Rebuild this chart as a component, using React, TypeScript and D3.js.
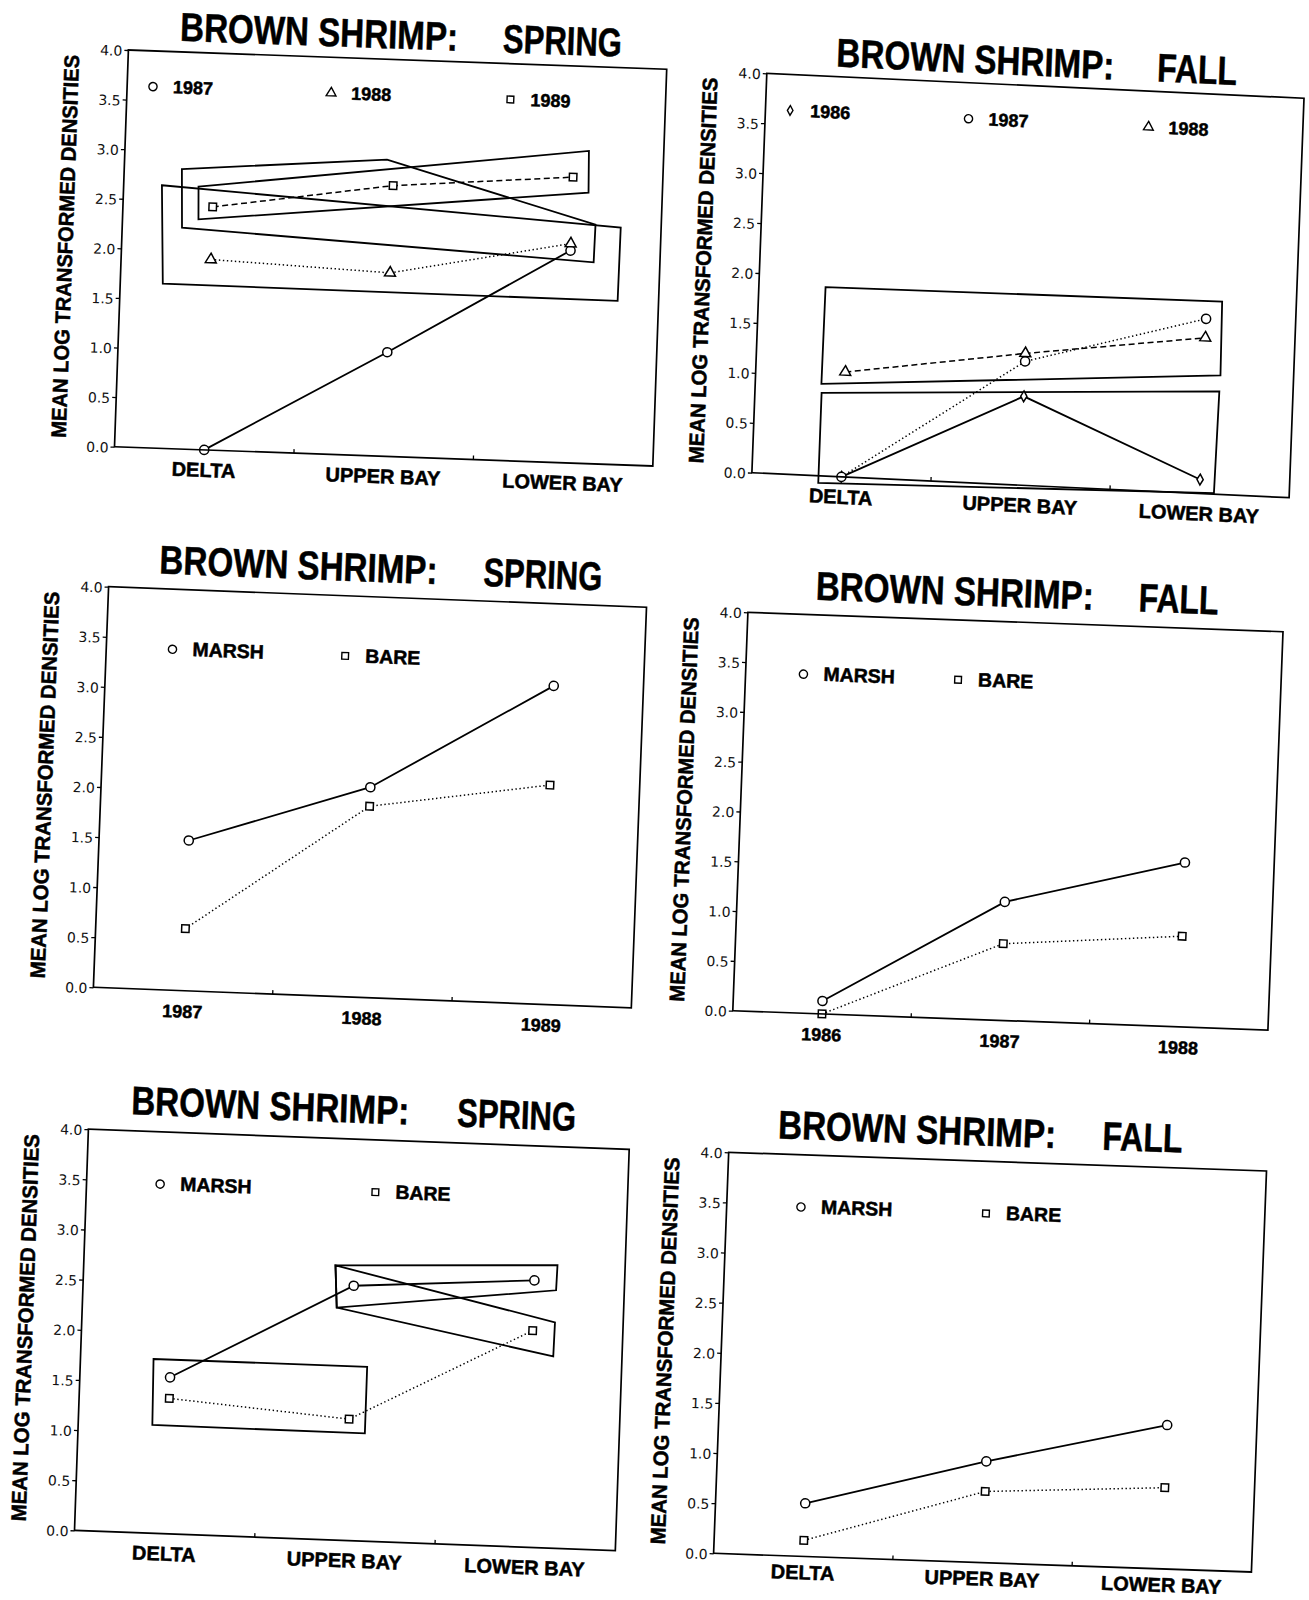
import React, { useRef, useEffect } from "react";
import * as d3 from "d3";

type Pt = [number, number];
type Mark = "circle" | "square" | "triangle" | "diamond";
type Dash = "solid" | "dot" | "dash";

interface Series {
  name: string;
  values: number[];
  mark: Mark;
  dash: Dash;
}

interface Panel {
  season: string;
  categories: string[];
  series: Series[];
  boxes: Pt[][];
  legendX: number[]; // fraction of the x axis
  legendY: number; // in data units
  tl: Pt; // page position of the frame corners (the scan is skewed)
  tr: Pt;
  bl: Pt;
  titleX: number;
  titleDy: number;
  seasonX: number;
  catDy: number;
}

const regions = ["DELTA", "UPPER BAY", "LOWER BAY"];
const springYears = ["1987", "1988", "1989"];
const fallYears = ["1986", "1987", "1988"];
const yTicks = [0, 0.5, 1, 1.5, 2, 2.5, 3, 3.5, 4];

const titleMain = "BROWN SHRIMP:";
const yTitle = "MEAN LOG TRANSFORMED DENSITIES";

// spring, by region, one line per year
const springRegion1987 = [0.0, 1.05, 2.14];
const springRegion1988 = [1.92, 1.85, 2.21];
const springRegion1989 = [2.45, 2.73, 2.88];

// fall, by region, one line per year
const fallRegion1986 = [0.0, 0.89, 0.14];
const fallRegion1987 = [0.0, 1.24, 1.75];
const fallRegion1988 = [1.05, 1.32, 1.56];

// spring, by year, marsh vs bare
const springYearMarsh = [1.5, 2.1, 3.18];
const springYearBare = [0.62, 1.91, 2.19];

// fall, by year, marsh vs bare
const fallYearMarsh = [0.13, 1.19, 1.65];
const fallYearBare = [0.0, 0.77, 0.91];

// spring, by region, marsh vs bare
const springRegionMarsh = [1.56, 2.54, 2.66];
const springRegionBare = [1.35, 1.21, 2.16];

// fall, by region, marsh vs bare
const fallRegionMarsh = [0.53, 1.01, 1.435];
const fallRegionBare = [0.16, 0.71, 0.81];

// hand drawn grouping boxes, [fraction of x axis, value]
const springRegionBoxes: Pt[][] = [
  [[0.071, 2.65], [0.925, 2.39], [0.924, 1.65], [0.079, 1.66]],
  [[0.107, 2.82], [0.487, 2.99], [0.878, 2.41], [0.877, 2.03], [0.111, 2.23]],
  [[0.139, 2.65], [0.861, 3.15], [0.863, 2.73], [0.141, 2.32]],
];
const fallRegionBoxes: Pt[][] = [
  [[0.124, 1.89], [0.862, 1.93], [0.864, 1.19], [0.123, 0.92]],
  [[0.124, 0.83], [0.863, 1.03], [0.86, 0.01], [0.124, -0.07]],
];
const springHabitatBoxes: Pt[][] = [
  [[0.135, 1.736], [0.53, 1.738], [0.53, 1.074], [0.137, 1.079]],
  [[0.465, 2.736], [0.875, 2.82], [0.874, 2.57], [0.47, 2.316]],
  [[0.465, 2.736], [0.874, 2.25], [0.873, 1.91], [0.47, 2.316]],
];

const panels: Panel[] = [
  {
    season: "SPRING",
    categories: regions,
    series: [
      { name: "1987", values: springRegion1987, mark: "circle", dash: "solid" },
      { name: "1988", values: springRegion1988, mark: "triangle", dash: "dot" },
      { name: "1989", values: springRegion1989, mark: "square", dash: "dash" },
    ],
    boxes: springRegionBoxes,
    legendX: [0.048, 0.379, 0.712],
    legendY: 3.64,
    tl: [128.4, 50], tr: [666.7, 69.3], bl: [114.5, 446.7],
    titleX: 51, titleDy: 11, seasonX: 374, catDy: 27,
  },
  {
    season: "FALL",
    categories: regions,
    series: [
      { name: "1986", values: fallRegion1986, mark: "diamond", dash: "solid" },
      { name: "1987", values: fallRegion1987, mark: "circle", dash: "dot" },
      { name: "1988", values: fallRegion1988, mark: "triangle", dash: "dash" },
    ],
    boxes: fallRegionBoxes,
    legendX: [0.046, 0.378, 0.713],
    legendY: 3.64,
    tl: [766.8, 73.3], tr: [1304, 98.3], bl: [751.9, 472.7],
    titleX: 69, titleDy: 10, seasonX: 390, catDy: 27,
  },
  {
    season: "SPRING",
    categories: springYears,
    series: [
      { name: "MARSH", values: springYearMarsh, mark: "circle", dash: "solid" },
      { name: "BARE", values: springYearBare, mark: "square", dash: "dot" },
    ],
    boxes: [],
    legendX: [0.123, 0.444],
    legendY: 3.4,
    tl: [108.6, 586.7], tr: [646.5, 607.2], bl: [93.4, 987.3],
    titleX: 50, titleDy: 15, seasonX: 374, catDy: 27,
  },
  {
    season: "FALL",
    categories: fallYears,
    series: [
      { name: "MARSH", values: fallYearMarsh, mark: "circle", dash: "solid" },
      { name: "BARE", values: fallYearBare, mark: "square", dash: "dot" },
    ],
    boxes: [],
    legendX: [0.108, 0.397],
    legendY: 3.4,
    tl: [747.9, 612.3], tr: [1283, 631.7], bl: [732.8, 1010.7],
    titleX: 67, titleDy: 15, seasonX: 390, catDy: 27,
  },
  {
    season: "SPRING",
    categories: regions,
    series: [
      { name: "MARSH", values: springRegionMarsh, mark: "circle", dash: "solid" },
      { name: "BARE", values: springRegionBare, mark: "square", dash: "dot" },
    ],
    boxes: springHabitatBoxes,
    legendX: [0.136, 0.534],
    legendY: 3.48,
    tl: [88.4, 1129.2], tr: [629.2, 1149.4], bl: [74.5, 1530.4],
    titleX: 42, titleDy: 16.5, seasonX: 368, catDy: 27,
  },
  {
    season: "FALL",
    categories: regions,
    series: [
      { name: "MARSH", values: fallRegionMarsh, mark: "circle", dash: "solid" },
      { name: "BARE", values: fallRegionBare, mark: "square", dash: "dot" },
    ],
    boxes: [],
    legendX: [0.138, 0.482],
    legendY: 3.48,
    tl: [728.7, 1152.3], tr: [1266.5, 1171], bl: [713.6, 1553.3],
    titleX: 48.5, titleDy: 15.5, seasonX: 373, catDy: 23,
  },
];

const FONT = "'Liberation Sans', Arial, Helvetica, sans-serif";

const symbolType = (m: Mark) =>
  m === "circle" ? d3.symbolCircle
    : m === "square" ? d3.symbolSquare
    : m === "triangle" ? d3.symbolTriangle
    : d3.symbolDiamond;

const symbolSize = (m: Mark) =>
  m === "circle" ? 66 : m === "square" ? 56 : m === "triangle" ? 52 : 34;

const dashArray = (d: Dash) => (d === "dot" ? "1.4 2.6" : d === "dash" ? "6 3.5" : null);

// heavy plotter lettering
const bold = (t: d3.Selection<SVGTextElement, any, any, any>, size: number) =>
  t.attr("font-family", FONT)
    .attr("font-weight", "bold")
    .attr("font-size", size)
    .attr("fill", "#000")
    .attr("stroke", "#000")
    .attr("stroke-width", 0.5);

const drawPanel = (svg: d3.Selection<SVGSVGElement | null, unknown, null, undefined>, p: Panel) => {
  const W = Math.hypot(p.tr[0] - p.tl[0], p.tr[1] - p.tl[1]);
  const H = Math.hypot(p.bl[0] - p.tl[0], p.bl[1] - p.tl[1]);
  const m = [
    (p.tr[0] - p.tl[0]) / W, (p.tr[1] - p.tl[1]) / W,
    (p.bl[0] - p.tl[0]) / H, (p.bl[1] - p.tl[1]) / H,
    p.tl[0], p.tl[1],
  ];

  const g = svg.append("g").attr("transform", `matrix(${m.join(" ")})`);

  const x = d3.scaleBand<string>().domain(p.categories).range([0, W]);
  const xf = d3.scaleLinear().domain([0, 1]).range([0, W]);
  const y = d3.scaleLinear().domain([0, 4]).range([H, 0]);
  const cx = (c: string) => (x(c) ?? 0) + x.bandwidth() / 2;

  // grouping boxes
  const boxLine = d3.line<Pt>().x((d) => xf(d[0])).y((d) => y(d[1])).curve(d3.curveLinearClosed);
  p.boxes.forEach((b) => {
    g.append("path")
      .attr("d", boxLine(b))
      .attr("fill", "none")
      .attr("stroke", "#000")
      .attr("stroke-width", 1.8);
  });

  // series lines
  const line = d3.line<Pt>().x((d) => d[0]).y((d) => d[1]);
  p.series.forEach((s) => {
    const pts: Pt[] = s.values.map((v, i) => [cx(p.categories[i]), y(v)]);
    g.append("path")
      .attr("d", line(pts))
      .attr("fill", "none")
      .attr("stroke", "#000")
      .attr("stroke-width", s.dash === "solid" ? 1.8 : 1.5)
      .attr("stroke-dasharray", dashArray(s.dash));
  });

  // markers
  p.series.forEach((s) => {
    g.selectAll(null)
      .data(s.values)
      .enter()
      .append("path")
      .attr("d", d3.symbol().type(symbolType(s.mark)).size(symbolSize(s.mark))())
      .attr("transform", (v, i) => `translate(${cx(p.categories[i])},${y(v)})`)
      .attr("fill", "#fff")
      .attr("stroke", "#000")
      .attr("stroke-width", 1.5);
  });

  // frame
  g.append("rect")
    .attr("width", W)
    .attr("height", H)
    .attr("fill", "none")
    .attr("stroke", "#000")
    .attr("stroke-width", 1.7);

  // y axis
  const yAxis = g.append("g").call(
    d3.axisLeft(y).tickValues(yTicks).tickFormat(d3.format(".1f")).tickSize(4).tickPadding(2)
  );
  yAxis.select(".domain").remove();
  yAxis.selectAll("line").attr("stroke", "#000").attr("stroke-width", 1.3);
  yAxis.selectAll("text")
    .attr("font-family", "'DejaVu Sans', sans-serif")
    .attr("font-size", 14)
    .attr("fill", "#111")
    .attr("dy", "0.4em");

  // x axis: ticks between the categories, labels under the band centres
  g.selectAll(null)
    .data(p.categories.slice(1))
    .enter()
    .append("line")
    .attr("x1", (c) => x(c) ?? 0)
    .attr("x2", (c) => x(c) ?? 0)
    .attr("y1", H)
    .attr("y2", H - 4)
    .attr("stroke", "#000")
    .attr("stroke-width", 1.3);

  const isYear = /^\d+$/.test(p.categories[0]);
  bold(
    g.selectAll(null)
      .data(p.categories)
      .enter()
      .append("text")
      .attr("x", (c) => cx(c))
      .attr("y", H + p.catDy)
      .attr("text-anchor", "middle")
      .text((c) => c),
    isYear ? 18 : 20
  );

  // axis title
  bold(
    g.append("text")
      .attr("transform", `translate(-49,${H / 2}) rotate(-90)`)
      .attr("text-anchor", "middle")
      .attr("textLength", H * 0.965)
      .attr("lengthAdjust", "spacingAndGlyphs")
      .text(yTitle),
    21
  );

  // title
  bold(
    g.append("text")
      .attr("x", p.titleX)
      .attr("y", -p.titleDy)
      .attr("textLength", 278)
      .attr("lengthAdjust", "spacingAndGlyphs")
      .text(titleMain),
    40
  );
  bold(
    g.append("text")
      .attr("x", p.seasonX)
      .attr("y", -p.titleDy)
      .attr("textLength", p.season === "FALL" ? 80 : 119)
      .attr("lengthAdjust", "spacingAndGlyphs")
      .text(p.season),
    40
  );

  // legend
  p.series.forEach((s, i) => {
    const lx = xf(p.legendX[i]);
    const ly = y(p.legendY);
    g.append("path")
      .attr("d", d3.symbol().type(symbolType(s.mark)).size(symbolSize(s.mark) * 0.8)())
      .attr("transform", `translate(${lx},${ly})`)
      .attr("fill", "#fff")
      .attr("stroke", "#000")
      .attr("stroke-width", 1.4);
    bold(
      g.append("text")
        .attr("x", lx + 20)
        .attr("y", ly + 6)
        .text(s.name),
      isNaN(+s.name) ? 19.5 : 18
    );
  });
};

const App: React.FC = () => {
  const svgRef = useRef<SVGSVGElement>(null);

  useEffect(() => {
    const svg = d3.select(svgRef.current);
    svg.selectAll("*").remove();
    svg.append("rect").attr("width", 1309).attr("height", 1600).attr("fill", "#fff");
    panels.forEach((p) => drawPanel(svg, p));
  }, []);

  return (
    <svg
      ref={svgRef}
      width={1309}
      height={1600}
      style={{ position: "absolute", left: 0, top: 0, display: "block" }}
    ></svg>
  );
};

export default App;
